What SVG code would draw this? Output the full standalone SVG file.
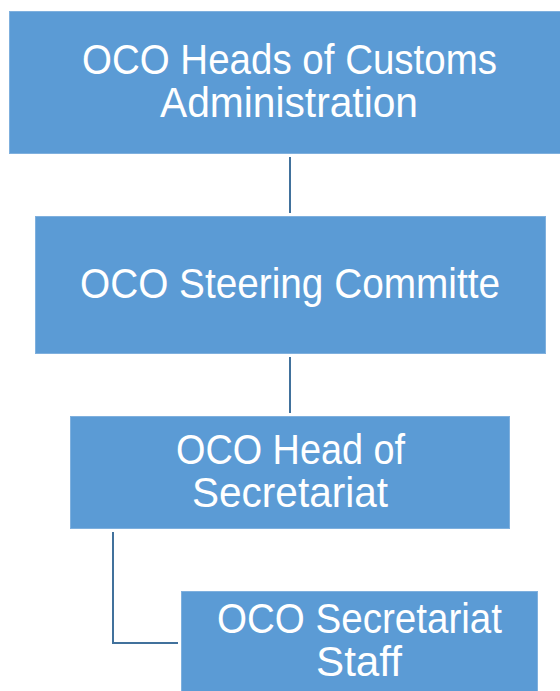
<svg xmlns="http://www.w3.org/2000/svg" width="560" height="691" viewBox="0 0 560 691">
<style>
.box{fill:#5B9BD5;stroke:#7FB0DE;stroke-width:1}
.t{font-family:"Liberation Sans",Arial,sans-serif;font-size:42px;fill:#FFFFFF;text-anchor:middle}
.c{fill:none;stroke:#41719C;stroke-width:2}
</style>
<rect width="560" height="691" fill="#FFFFFF"/>
<g id="connectors">
<line class="c" x1="290" y1="157" x2="290" y2="213"/>
<line class="c" x1="290" y1="357" x2="290" y2="413"/>
<polyline class="c" points="113,532 113,643 178,643"/>
</g>
<g id="node-heads">
<rect class="box" x="9.5" y="11.5" width="560" height="142"/>
<text class="t" x="289.5" y="74" textLength="415" lengthAdjust="spacingAndGlyphs">OCO Heads of Customs</text>
<text class="t" x="289" y="117" textLength="258" lengthAdjust="spacingAndGlyphs">Administration</text>
</g>
<g id="node-steering">
<rect class="box" x="35.5" y="216.5" width="510" height="137"/>
<text class="t" x="290" y="298" textLength="420" lengthAdjust="spacingAndGlyphs">OCO Steering Committe</text>
</g>
<g id="node-head-secretariat">
<rect class="box" x="70.5" y="416.5" width="439" height="112"/>
<text class="t" x="290.5" y="464" textLength="229" lengthAdjust="spacingAndGlyphs">OCO Head of</text>
<text class="t" x="290" y="507" textLength="196" lengthAdjust="spacingAndGlyphs">Secretariat</text>
</g>
<g id="node-staff">
<rect class="box" x="181.5" y="591.5" width="356" height="110"/>
<text class="t" x="359.5" y="633" textLength="285" lengthAdjust="spacingAndGlyphs">OCO Secretariat</text>
<text class="t" x="359" y="676" textLength="86" lengthAdjust="spacingAndGlyphs">Staff</text>
</g>
</svg>
